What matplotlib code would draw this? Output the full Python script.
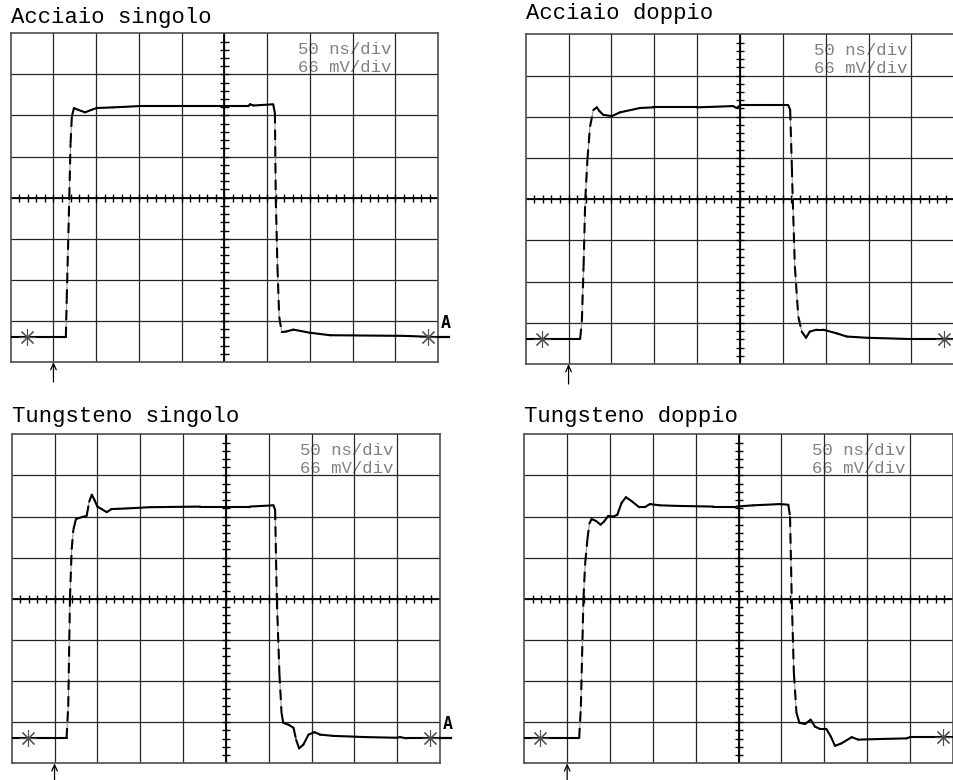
import numpy as np
import matplotlib
matplotlib.use("Agg")
import matplotlib.pyplot as plt
from matplotlib.collections import LineCollection

# ---------------- data (time in ns, voltage in mV) ----------------
titles = ["Acciaio singolo", "Acciaio doppio", "Tungsteno singolo", "Tungsteno doppio"]
time_per_div = 50   # ns/div
volt_per_div = 66   # mV/div
info_lines = ["50 ns/div", "66 mV/div"]

t_acc_sing = [0, 64.5, 65.5, 67.5, 68.5, 70, 71.5, 74, 79, 87, 94.5, 100.5, 120, 149.5, 200, 250,
              278, 280, 284, 307, 309, 310, 312, 314, 317, 322.5, 330.5, 338.5, 350, 373.5, 459, 500]
v_acc_sing = [-224, -224, -164, -57, 0, 87, 130, 144, 141, 137, 141, 144, 145, 147, 147, 147,
              147, 150, 148, 150, 136, 0, -111, -191, -216, -215, -212, -214, -217, -221, -222, -224]

t_acc_dopp = [0, 63.5, 65.5, 67.5, 69.5, 72, 75, 79, 83, 86, 90.5, 100.5, 110, 133.5, 149, 199.5,
              242, 246, 250, 277, 306.5, 308.5, 310.5, 311.5, 314, 318, 322, 327, 331.5, 339.5,
              347, 363, 374.5, 398, 448.5, 500]
v_acc_dopp = [-224, -224, -196, -108, 0, 63, 116, 143, 147, 141, 135, 133, 139, 146, 147, 147,
              149, 146, 150, 150, 150, 143, 52, 0, -108, -188, -212, -222, -212, -209,
              -209, -215, -220, -222, -224, -224]

t_tun_sing = [0, 64, 66, 68, 70, 72, 75, 81.5, 87.5, 90.5, 93.5, 96.5, 100, 105, 111, 116.5, 134,
              161.5, 220, 278, 305.5, 307.5, 309.5, 312.5, 315, 317, 323, 329, 332, 335.5, 340.5,
              346.5, 353.5, 360, 375.5, 414.5, 449.5, 453.5, 461, 500]
v_tun_sing = [-224, -224, -173, 0, 79, 111, 128, 131, 133, 156, 167, 159, 148, 144, 139, 144, 145,
              147, 148, 148, 150, 143, 0, -119, -183, -199, -202, -207, -226, -240, -234,
              -218, -214, -218, -220, -222, -223, -222, -224, -224]

t_tun_dopp = [0, 64, 66, 69, 71, 73.5, 76, 78.5, 83.5, 89, 93, 98, 104, 108.5, 113.5, 118.5, 125,
              134, 140.5, 146.5, 158, 181.5, 220.5, 247.5, 267, 298, 308, 310, 312, 314.5, 317.5,
              321, 327.5, 334, 339, 345, 352.5, 357.5, 362.5, 370, 382, 389.5, 415, 446, 450, 500]
v_tun_dopp = [-224, -224, -173, 0, 57, 94, 121, 128, 125, 119, 124, 133, 132, 135, 154, 163, 157,
              147, 147, 152, 150, 149, 148, 148, 150, 152, 151, 132, 0, -119, -183,
              -199, -201, -194, -205, -209, -209, -221, -236, -232, -222, -226, -225, -224, -222, -222]

traces = [(t_acc_sing, v_acc_sing), (t_acc_dopp, v_acc_dopp),
          (t_tun_sing, v_tun_sing), (t_tun_dopp, v_tun_dopp)]
trigger_ns = 50          # trigger arrow position
ground_ns = [18.5, 488]  # ground markers (left / right)
show_A = [True, False, True, False]

# ---------------- layout (pixels) ----------------
W, H = 954, 780
boxes = [(10.7, 33.3, 427.5, 328.7), (525.7, 34.3, 428.6, 329.7),
         (11.7, 434.3, 428.3, 329.0), (524.3, 434.3, 428.6, 329.0)]
title_pos = [(10.7, 22.7), (525.7, 19.0), (11.7, 422.3), (524.3, 421.7)]

MONO = "Liberation Mono"

fig = plt.figure(figsize=(W / 100, H / 100), dpi=100)
fig.patch.set_facecolor("white")

nx, ny = 10, 8
xmax = nx * time_per_div
ymax = ny / 2 * volt_per_div


def draw_trace(ax, t, v):
    t = np.asarray(t, float)
    v = np.asarray(v, float)
    ax.plot(t, v, color="0.55", lw=0.7, zorder=3, solid_capstyle="round")
    segs = [[(t[i], v[i]), (t[i + 1], v[i + 1])] for i in range(len(t) - 1)]
    slope = np.abs(np.diff(v) / volt_per_div) / np.maximum(np.diff(t) / time_per_div, 1e-9)
    flat = [s for s, k in zip(segs, slope) if k <= 3.5]
    steep = [s for s, k in zip(segs, slope) if k > 3.5]
    ax.add_collection(LineCollection(flat, colors="black", linewidths=1.5, zorder=4,
                                     capstyle="round"))
    ax.add_collection(LineCollection(steep, colors="black", linewidths=1.5, zorder=4,
                                     linestyles=[(0, (5, 3))]))


for i, (l, tp, w, h) in enumerate(boxes):
    ax = fig.add_axes([l / W, 1 - (tp + h) / H, w / W, h / H])
    ax.set_xlim(0, xmax)
    ax.set_ylim(-ymax, ymax)
    ax.set_xticks([])
    ax.set_yticks([])
    for sp in ax.spines.values():
        sp.set_color("0.3")
        sp.set_linewidth(1.2)

    # grid
    for k in range(1, nx):
        ax.axvline(k * time_per_div, color="0.15", lw=0.9, zorder=1)
    for k in range(1, ny):
        ax.axhline((k - ny / 2) * volt_per_div, color="0.15", lw=0.9, zorder=1)
    # centre axes with minor ticks
    ax.axhline(0, color="black", lw=1.3, zorder=1.5)
    ax.axvline(xmax / 2, color="black", lw=1.3, zorder=1.5)
    tx = np.arange(0, xmax + 1e-6, time_per_div / 5)[1:-1]
    ty = np.arange(-ymax, ymax + 1e-6, volt_per_div / 5)[1:-1]
    dy = 0.1 * volt_per_div
    dx = 0.095 * time_per_div
    ax.vlines(tx, -dy, dy, color="black", lw=1.0, zorder=1.5)
    ax.hlines(ty, xmax / 2 - dx, xmax / 2 + dx, color="black", lw=1.0, zorder=1.5)

    # info text (under the grid)
    ax.text(336, 3.49 * volt_per_div, info_lines[0], fontfamily=MONO, fontsize=12.5,
            color="0.5", ha="left", va="baseline", zorder=0.5)
    ax.text(336, 3.05 * volt_per_div, info_lines[1], fontfamily=MONO, fontsize=12.5,
            color="0.5", ha="left", va="baseline", zorder=0.5)

    t, v = traces[i]
    draw_trace(ax, t, v)

    # ground markers
    base = v[0]
    ax.plot([ground_ns[0]], [base], marker=(8, 2, 0), ms=12, mew=0.8, color="0.3", zorder=5)
    ax.plot([ground_ns[1]], [v[-1]], marker=(8, 2, 0), ms=12, mew=0.8, color="0.3", zorder=5)

    if show_A[i]:
        ax.plot([xmax, xmax + 0.25 * time_per_div], [v[-1], v[-1]], color="black", lw=1.6,
                clip_on=False, zorder=5)
        ax.text(xmax + 0.07 * time_per_div, v[-1] + 0.13 * volt_per_div, "A",
                fontfamily="DejaVu Sans Mono", fontweight="bold", fontsize=12,
                ha="left", va="bottom", color="black")

    # trigger arrow
    ax.annotate("", xy=(trigger_ns, -ymax), xycoords="data",
                xytext=(0, -20), textcoords="offset pixels",
                arrowprops=dict(arrowstyle="->,head_width=0.2,head_length=0.45",
                                lw=0.9, color="black", shrinkA=0, shrinkB=0),
                annotation_clip=False)

    # title
    fx, fy = title_pos[i]
    fig.text(fx / W, 1 - fy / H, titles[i], fontfamily=MONO, fontsize=16,
             ha="left", va="baseline", color="black")

fig.savefig("out.png", dpi=100, facecolor="white")
